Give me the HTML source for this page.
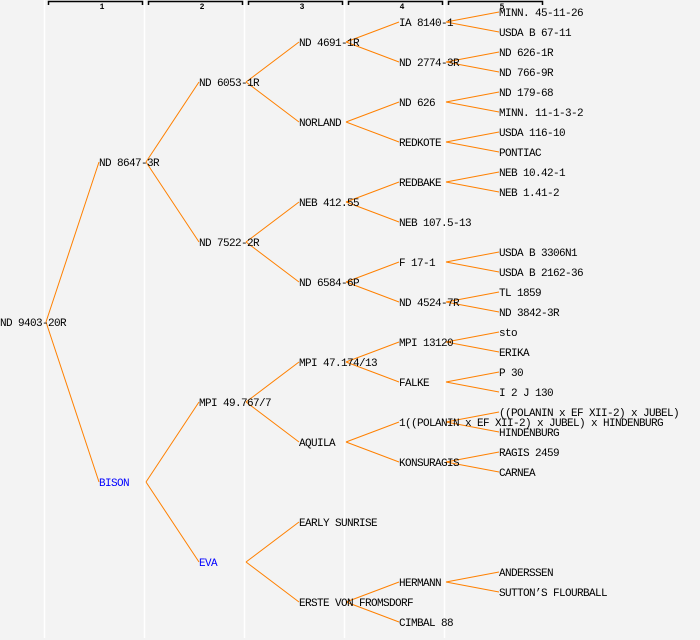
<!DOCTYPE html>
<html><head><meta charset="utf-8"><style>
html,body{margin:0;padding:0;background:#f3f3f3;}
svg{display:block;}
text{font-family:"Liberation Mono","DejaVu Sans Mono",monospace;font-size:11px;letter-spacing:-0.6px;fill:#000;}
.h{font-size:8px;font-weight:bold;letter-spacing:0;}
.b{fill:#0000ff;}
</style></head><body>
<svg width="700" height="640" viewBox="0 0 700 640" xmlns="http://www.w3.org/2000/svg">
<rect width="700" height="640" fill="#f3f3f3"/>
<g stroke="#ffffff" stroke-width="1.5">
<line x1="44.5" y1="0" x2="44.5" y2="638"/>
<line x1="144.5" y1="0" x2="144.5" y2="638"/>
<line x1="244.5" y1="0" x2="244.5" y2="638"/>
<line x1="344.5" y1="0" x2="344.5" y2="638"/>
<line x1="444.5" y1="0" x2="444.5" y2="638"/>
</g>
<g stroke="#000" stroke-width="1.5" fill="none">
<path d="M48.5 5V1.5H142.5V5"/>
<path d="M148.5 5V1.5H242.5V5"/>
<path d="M248.5 5V1.5H342.5V5"/>
<path d="M348.5 5V1.5H442.5V5"/>
<path d="M448.5 5V1.5H542.5V5"/>
</g>
<g text-anchor="middle">
<text class="h" x="102" y="9">1</text>
<text class="h" x="202" y="9">2</text>
<text class="h" x="302" y="9">3</text>
<text class="h" x="402" y="9">4</text>
<text class="h" x="502" y="9">5</text>
</g>
<g stroke="#ff8000" stroke-width="1" fill="none">
<path d="M46 322L99 162M46 322L99 482"/>
<path d="M146 162L199 82M146 162L199 242M146 482L199 402M146 482L199 562"/>
<path d="M246 82L299 42M246 82L299 122M246 242L299 202M246 242L299 282M246 402L299 362M246 402L299 442M246 562L299 522M246 562L299 602"/>
<path d="M346 42L399 22M346 42L399 62M346 122L399 102M346 122L399 142M346 202L399 182M346 202L399 222M346 282L399 262M346 282L399 302M346 362L399 342M346 362L399 382M346 442L399 422M346 442L399 462M346 602L399 582M346 602L399 622"/>
<path d="M446 22L499 12M446 22L499 32M446 62L499 52M446 62L499 72M446 102L499 92M446 102L499 112M446 142L499 132M446 142L499 152M446 182L499 172M446 182L499 192M446 262L499 252M446 262L499 272M446 302L499 292M446 302L499 312M446 342L499 332M446 342L499 352M446 382L499 372M446 382L499 392M446 422L499 412M446 422L499 432M446 462L499 452M446 462L499 472M446 582L499 572M446 582L499 592"/>
</g>
<g dominant-baseline="central" transform="translate(0,2)">
<text x="0" y="322">ND 9403-20R</text>
<text x="99" y="162">ND 8647-3R</text>
<text x="99" y="482" class="b">BISON</text>
<text x="199" y="82">ND 6053-1R</text>
<text x="199" y="242">ND 7522-2R</text>
<text x="199" y="402">MPI 49.767/7</text>
<text x="199" y="562" class="b">EVA</text>
<text x="299" y="42">ND 4691-1R</text>
<text x="299" y="122">NORLAND</text>
<text x="299" y="202">NEB 412.55</text>
<text x="299" y="282">ND 6584-6P</text>
<text x="299" y="362">MPI 47.174/13</text>
<text x="299" y="442">AQUILA</text>
<text x="299" y="522">EARLY SUNRISE</text>
<text x="299" y="602">ERSTE VON FROMSDORF</text>
<text x="399" y="22">IA 8140-1</text>
<text x="399" y="62">ND 2774-3R</text>
<text x="399" y="102">ND 626</text>
<text x="399" y="142">REDKOTE</text>
<text x="399" y="182">REDBAKE</text>
<text x="399" y="222">NEB 107.5-13</text>
<text x="399" y="262">F 17-1</text>
<text x="399" y="302">ND 4524-7R</text>
<text x="399" y="342">MPI 13120</text>
<text x="399" y="382">FALKE</text>
<text x="399" y="422">1((POLANIN x EF XII-2) x JUBEL) x HINDENBURG</text>
<text x="399" y="462">KONSURAGIS</text>
<text x="399" y="582">HERMANN</text>
<text x="399" y="622">CIMBAL 88</text>
<text x="499" y="12">MINN. 45-11-26</text>
<text x="499" y="32">USDA B 67-11</text>
<text x="499" y="52">ND 626-1R</text>
<text x="499" y="72">ND 766-9R</text>
<text x="499" y="92">ND 179-68</text>
<text x="499" y="112">MINN. 11-1-3-2</text>
<text x="499" y="132">USDA 116-10</text>
<text x="499" y="152">PONTIAC</text>
<text x="499" y="172">NEB 10.42-1</text>
<text x="499" y="192">NEB 1.41-2</text>
<text x="499" y="252">USDA B 3306N1</text>
<text x="499" y="272">USDA B 2162-36</text>
<text x="499" y="292">TL 1859</text>
<text x="499" y="312">ND 3842-3R</text>
<text x="499" y="332">sto</text>
<text x="499" y="352">ERIKA</text>
<text x="499" y="372">P 30</text>
<text x="499" y="392">I 2 J 130</text>
<text x="499" y="412">((POLANIN x EF XII-2) x JUBEL)</text>
<text x="499" y="432">HINDENBURG</text>
<text x="499" y="452">RAGIS 2459</text>
<text x="499" y="472">CARNEA</text>
<text x="499" y="572">ANDERSSEN</text>
<text x="499" y="592">SUTTON’S FLOURBALL</text>
</g>
</svg>
</body></html>
